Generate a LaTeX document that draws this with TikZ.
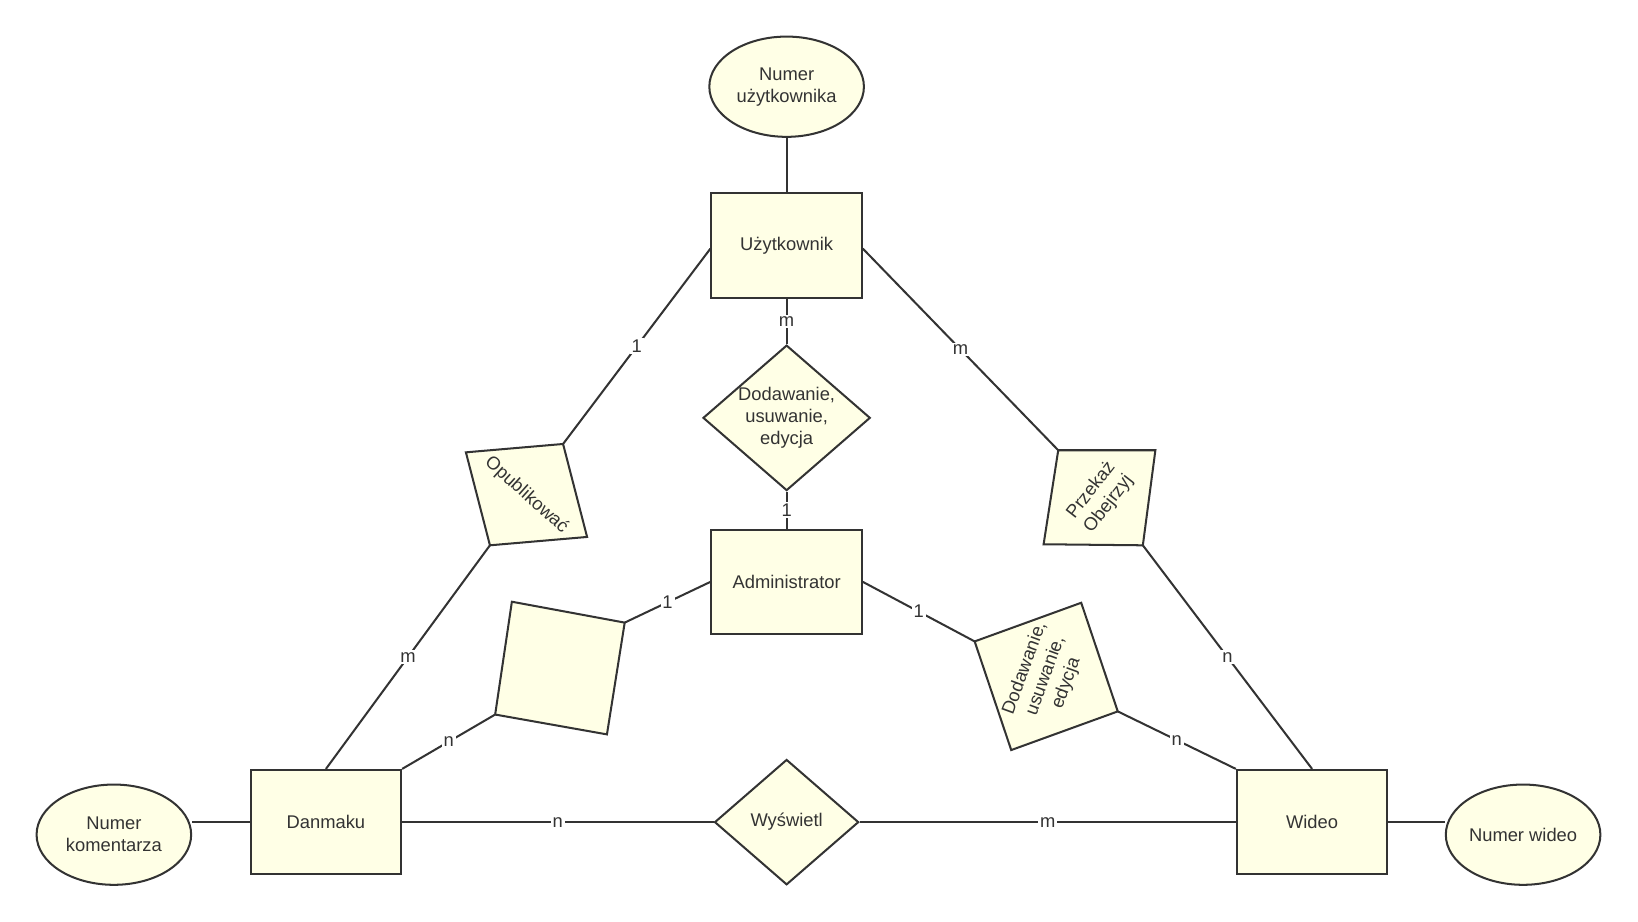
\documentclass[tikz,border=0pt]{standalone}
\usepackage{fontspec}
\setmainfont{Liberation Sans}
\usetikzlibrary{shapes.geometric}
\definecolor{fillc}{HTML}{FFFFE6}
\definecolor{linec}{HTML}{333333}
\begin{document}
\begin{tikzpicture}[x=0.02cm,y=-0.02cm,
  every node/.style={font=\fontsize{10}{12}\selectfont, text=linec},
  ent/.style={draw=linec,line width=1.1pt,fill=fillc,minimum width=2.88cm,minimum height=2cm},
  attr/.style={draw=linec,line width=1.1pt,fill=fillc,ellipse,inner sep=0pt,minimum width=2.96cm,minimum height=1.92cm,align=center},
  rel/.style={draw=linec,line width=1.1pt,fill=fillc,diamond,aspect=1.15,align=center,inner sep=0pt},
  shp/.style={draw=linec,line width=1.1pt,fill=fillc},
  conn/.style={draw=linec,line width=1.1pt},
  lbl/.style={fill=white,inner sep=1pt}]
\useasboundingbox (0,0) rectangle (1568,882);
\node[attr] (nu) at (753,83) {Numer\\użytkownika};
\node[ent] (u) at (753,235) {Użytkownik};
\node[rel,minimum width=3.08cm,minimum height=2.68cm] (dd) at (753,400) {Dodawanie,\\usuwanie,\\edycja};
\node[ent] (ad) at (753,557) {Administrator};
\node[ent] (dm) at (312,787) {Danmaku};
\node[ent] (wi) at (1256,787) {Wideo};
\node[rel,minimum width=2.76cm,minimum height=2.4cm] (wy) at (753,787) {Wyświetl};
\node[attr] (nk) at (109,799) {Numer\\komentarza};
\node[attr] (nw) at (1458,799) {Numer wideo};
\coordinate (o1) at (446,433); \coordinate (o2) at (539,425); \coordinate (o3) at (562,514); \coordinate (o4) at (469,522);
\draw[shp] (o1)--(o2)--(o3)--(o4)--cycle;
\node[rotate=-42] (op) at (504,474) {Opublikować};
\coordinate (p1) at (1013,431); \coordinate (p2) at (1106,431); \coordinate (p3) at (1094,522); \coordinate (p4) at (999,521);
\draw[shp] (p1)--(p2)--(p3)--(p4)--cycle;
\node[rotate=52,align=center] (pr) at (1053,476) {Przekaż\\Obejrzyj};
\coordinate (s1) at (490,576); \coordinate (s2) at (598,596); \coordinate (s3) at (581,703); \coordinate (s4) at (474,684);
\draw[shp] (s1)--(s2)--(s3)--(s4)--cycle;
\coordinate (r1) at (933,614); \coordinate (r2) at (1035,577); \coordinate (r3) at (1070,681); \coordinate (r4) at (968,718);
\draw[shp] (r1)--(r2)--(r3)--(r4)--cycle;
\node[rotate=70,align=center,inner sep=0pt] (rd) at (1001,647) {Dodawanie,\\usuwanie,\\edycja};
\draw[conn] (nu.south) -- (u.north);
\draw[conn] (u.west |- 0,238) -- node[lbl]{1} (o2);
\draw[conn] (o4) -- node[lbl]{m} (dm.north);
\draw[conn] (u.south) -- node[lbl]{m} (dd.north);
\draw[conn] (dd.south) -- node[lbl]{1} (ad.north);
\draw[conn] (u.east |- 0,238) -- node[lbl]{m} (p1);
\draw[conn] (p3) -- node[lbl]{n} (wi.north);
\draw[conn] (ad.west) -- node[lbl]{1} (s2);
\draw[conn] (s4) -- node[lbl]{n} (dm.north east);
\draw[conn] (ad.east) -- node[lbl]{1} (r1);
\draw[conn] (r3) -- node[lbl]{n} (wi.north west);
\draw[conn] (dm.east) -- node[lbl]{n} (wy.west);
\draw[conn] (wy.east) -- node[lbl]{m} (wi.west);
\draw[conn] (nk.east |- dm.east) -- (dm.west);
\draw[conn] (wi.east) -- (nw.west |- wi.east);
\end{tikzpicture}
\end{document}
